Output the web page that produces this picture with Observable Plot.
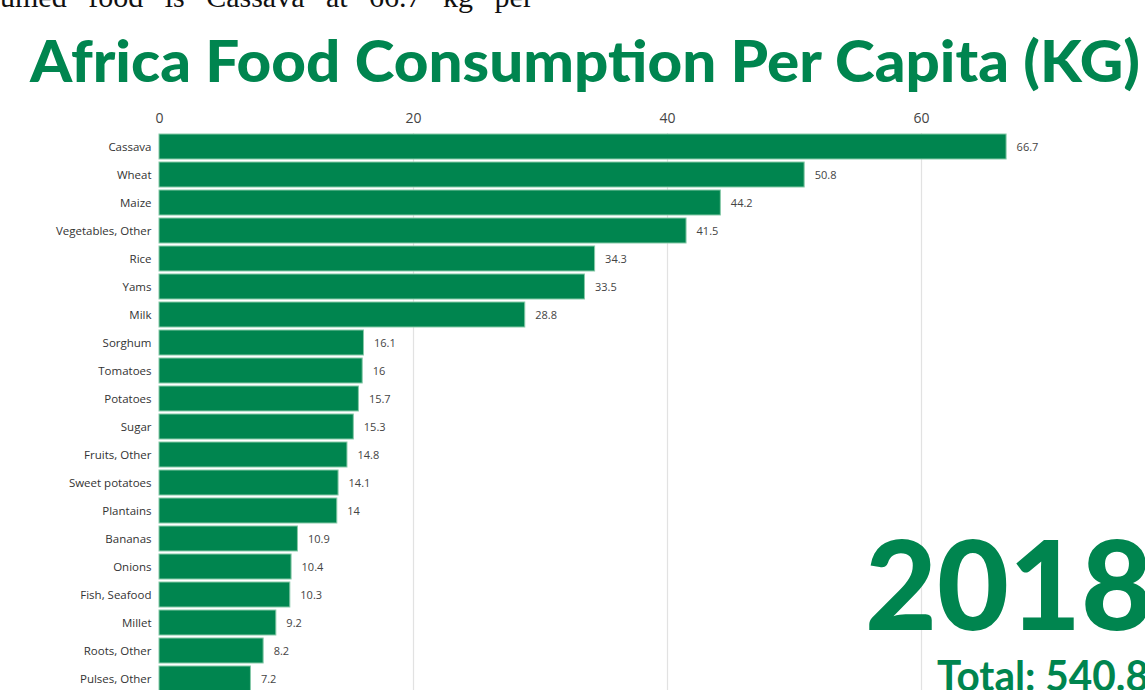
<!DOCTYPE html>
<html>
<head>
<meta charset="utf-8">
<script src="https://cdn.jsdelivr.net/npm/d3@7"></script>
<script src="https://cdn.jsdelivr.net/npm/@observablehq/plot@0.6"></script>
<style>
  html, body { margin: 0; padding: 0; background: #fff; overflow: hidden; width: 1145px; height: 690px; }
  #wrap { position: relative; width: 1145px; height: 690px; overflow: hidden; }
  #chart { position: absolute; left: 0; top: 0; }
  #overlay { position: absolute; left: 0; top: 0; pointer-events: none; }
</style>
</head>
<body>
<div id="wrap">
  <div id="chart"></div>
  <svg id="overlay" width="1145" height="690" xmlns="http://www.w3.org/2000/svg">
    <text id="lead" x="0" y="7" font-family="Liberation Serif, DejaVu Serif, serif" font-size="30" fill="#111" word-spacing="14"></text>
    <text id="title" x="30" y="82" font-family="Lato, 'Open Sans', sans-serif" font-weight="900" font-size="58" fill="#00854f" textLength="1110" lengthAdjust="spacingAndGlyphs"></text>
    <text id="year" x="865" y="630" font-family="Lato, 'Open Sans', sans-serif" font-weight="900" font-size="124" fill="#00854f" textLength="288" lengthAdjust="spacingAndGlyphs"></text>
    <text id="total" x="937" y="691" font-family="Lato, 'Open Sans', sans-serif" font-weight="700" font-size="42" fill="#00854f" textLength="212" lengthAdjust="spacingAndGlyphs"></text>
  </svg>
</div>
<script>
const leadText = "umed food is Cassava at 66.7 kg per";
const titleText = "Africa Food Consumption Per Capita (KG)";
const yearText = "2018";
const totalText = "Total: 540.8";

const categories = [
  "Cassava", "Wheat", "Maize", "Vegetables, Other", "Rice", "Yams", "Milk",
  "Sorghum", "Tomatoes", "Potatoes", "Sugar", "Fruits, Other", "Sweet potatoes",
  "Plantains", "Bananas", "Onions", "Fish, Seafood", "Millet", "Roots, Other", "Pulses, Other"
];
const values = [
  66.7, 50.8, 44.2, 41.5, 34.3, 33.5, 28.8,
  16.1, 16, 15.7, 15.3, 14.8, 14.1,
  14, 10.9, 10.4, 10.3, 9.2, 8.2, 7.2
];
const xTicks = [0, 20, 40, 60];

const data = categories.map((c, i) => ({ food: c, value: values[i] }));

document.getElementById("lead").textContent = leadText;
document.getElementById("title").textContent = titleText;
document.getElementById("year").textContent = yearText;
document.getElementById("total").textContent = totalText;

const green = "#00854f";

const chart = Plot.plot({
  width: 1145,
  height: 693,
  marginTop: 133,
  marginLeft: 159,
  marginRight: 97,
  marginBottom: 0,
  style: { fontFamily: "'Open Sans', sans-serif", background: "transparent" },
  x: { domain: [0, 70], axis: null },
  y: { domain: categories, paddingInner: 0.1, paddingOuter: 0.05, axis: null },
  marks: [
    Plot.gridX(xTicks.slice(1), { stroke: "#e2e2e2", strokeOpacity: 1, strokeWidth: 1.2 }),
    Plot.axisX(xTicks, { anchor: "top", tickSize: 0, tickPadding: 11, fontSize: 14, fill: "#444", label: null }),
    Plot.barX(data, { x: "value", y: "food", fill: green, stroke: "#86c9a8", strokeWidth: 1 }),
    Plot.text(data, { x: "value", y: "food", text: d => String(d.value), textAnchor: "start", dx: 10, fontSize: 11, fill: "#444" }),
    Plot.axisY({ anchor: "left", tickSize: 0, tickPadding: 8, fontSize: 11.5, fill: "#333", label: null })
  ]
});
document.getElementById("chart").appendChild(chart);
</script>
</body>
</html>
